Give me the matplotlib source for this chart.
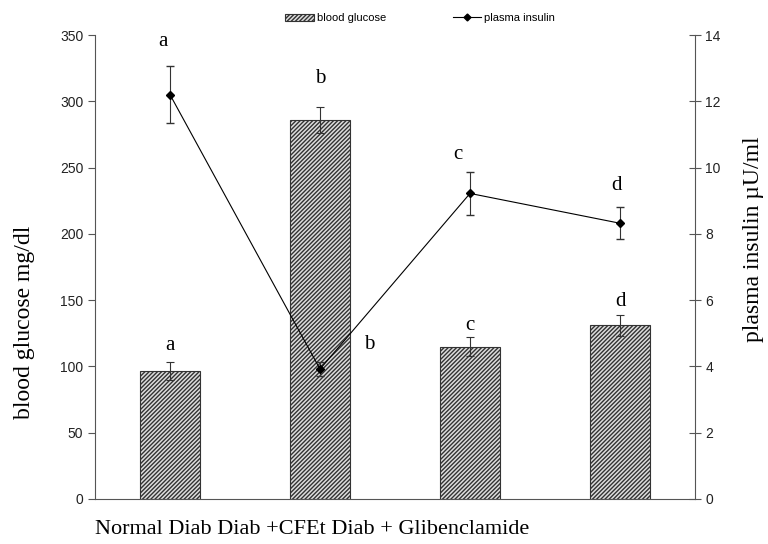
import matplotlib
matplotlib.use('Agg')
import matplotlib.pyplot as plt
from matplotlib.lines import Line2D
import numpy as np

groups = ['Normal', 'Diab', 'Diab +CFEt', 'Diab + Glibenclamide']
glucose = [96.5, 286, 115, 131]
glucose_err = [7, 10, 7.5, 8]
glucose_sig = ['a', 'b', 'c', 'd']
insulin = [12.2, 3.92, 9.22, 8.32]
insulin_err = [0.85, 0.2, 0.65, 0.48]
insulin_sig = ['a', 'b', 'c', 'd']

serif = 'Liberation Serif'
sans = 'Liberation Sans'

fig = plt.figure(figsize=(7.68, 5.44), dpi=100)
ax = fig.add_axes([95/768, 45/544, 600/768, 464/544])
x = np.arange(len(groups))

plt.rcParams['hatch.linewidth'] = 1.0
plt.rcParams['hatch.color'] = '#333333'
bars = ax.bar(x, glucose, width=0.4, color='#dddddd', edgecolor='#333333',
              hatch='////////', linewidth=0.8, label='blood glucose',
              yerr=glucose_err, capsize=3,
              error_kw=dict(ecolor='#333333', elinewidth=0.8, capthick=0.8))
ax.set_xlim(-0.5, 3.5)
ax.set_ylim(0, 350)
ax.set_yticks(range(0, 351, 50))
ax.set_xticks([])
ax.spines['top'].set_visible(False)
ax.spines['right'].set_visible(False)
for s in ['left', 'bottom']:
    ax.spines[s].set_color('#555555')
ax.tick_params(axis='y', direction='out', length=5, color='#555555', labelsize=10)
for t in ax.get_yticklabels():
    t.set_family(sans)
    t.set_color('#222222')
ax.set_ylabel('blood glucose mg/dl', family=serif, fontsize=17, va='center')
ax.yaxis.set_label_coords(-0.118, 0.38)

ax2 = ax.twinx()
ax2.errorbar(x, insulin, yerr=insulin_err, color='black', marker='D',
             markersize=4, linewidth=0.8, capsize=3, elinewidth=0.8,
             ecolor='#333333')
ax2.set_ylim(0, 14)
ax2.set_yticks(range(0, 15, 2))
ax2.spines['top'].set_visible(False)
ax2.spines['left'].set_visible(False)
ax2.spines['bottom'].set_visible(False)
ax2.spines['right'].set_color('#555555')
ax2.tick_params(axis='y', direction='inout', length=8, color='#555555', labelsize=10)
for t in ax2.get_yticklabels():
    t.set_family(sans)
    t.set_color('#222222')
ax2.set_ylabel('plasma insulin \u00b5U/ml', family=serif, fontsize=17,
               rotation=90, va='center')
ax2.yaxis.set_label_coords(1.097, 0.56)

# significance letters
glu_pos = [116, 317, 131, 149]
for i in range(len(groups)):
    ax.text(x[i], glu_pos[i], glucose_sig[i], family=serif, fontsize=15,
            ha='center', va='center')
ins_pos = [(-0.05, 13.8), (1.33, 4.65), (1.92, 10.38), (2.98, 9.45)]
for (px, py), s in zip(ins_pos, insulin_sig):
    ax2.text(px, py, s, family=serif, fontsize=15, ha='center', va='center')

h1, l1 = ax.get_legend_handles_labels()
line_handle = Line2D([], [], color='black', marker='D', markersize=3.5, linewidth=0.8)
fig.legend(h1 + [line_handle], l1 + ['plasma insulin'], loc='center',
           bbox_to_anchor=(420/768, 1 - 18/544),
           ncol=2, frameon=False, prop={'family': sans, 'size': 8},
           handlelength=2.6, handleheight=0.6, columnspacing=6, handletextpad=0.2)

fig.text(95/768, 1 - 530/544, ' '.join(groups), family=serif, fontsize=16,
         ha='left', va='center')

fig.savefig('out.png', dpi=100)
